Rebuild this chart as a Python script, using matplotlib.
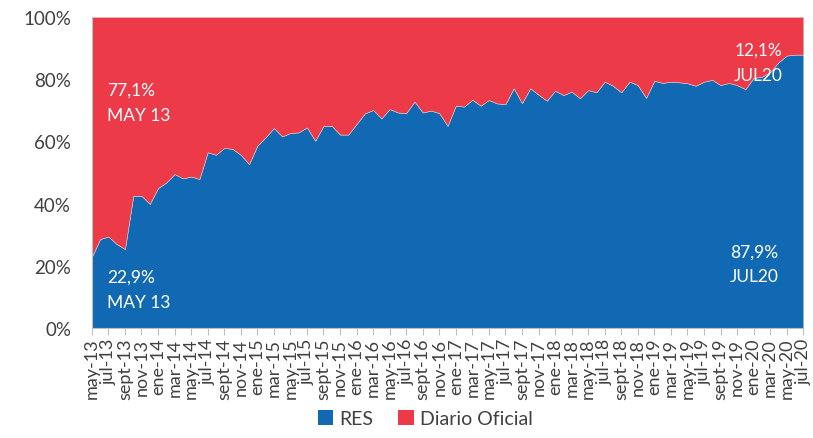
import matplotlib

matplotlib.use("Agg")
import matplotlib.pyplot as plt  # noqa: E402
from matplotlib.patches import Patch  # noqa: E402

BLUE, RED, GREY, INK = "#1169B4", "#EC3A48", "#BFBFBF", "#404040"

MONTHS = ["ene", "feb", "mar", "abr", "may", "jun", "jul", "ago", "sept", "oct", "nov", "dic"]

# monthly share of RES (%), may-13 .. jul-20
res = [
    22.9, 28.6, 29.4, 27.0, 25.4, 42.5, 42.5, 39.9,
    45.0, 46.8, 49.5, 48.1, 48.7, 47.9, 56.5, 55.7, 57.9, 57.6, 55.7, 52.7,
    58.6, 61.3, 64.3, 61.6, 62.7, 62.9, 64.5, 60.2, 65.0, 65.0, 62.2, 62.2,
    65.6, 69.0, 70.1, 67.4, 70.4, 69.3, 69.1, 72.8, 69.3, 69.9, 69.1, 65.0,
    71.5, 71.2, 73.4, 71.5, 73.3, 72.2, 72.0, 77.1, 72.3, 77.1, 75.0, 73.1,
    76.3, 74.9, 76.0, 73.9, 76.5, 75.8, 79.2, 77.9, 75.8, 79.2, 78.1, 74.0,
    79.5, 78.8, 79.2, 79.0, 78.7, 77.9, 79.2, 79.8, 78.1, 78.8, 78.1, 76.8,
    80.4, 80.8, 82.3, 85.4, 87.6, 87.9, 87.9,
]
diario = [100 - v for v in res]

labels = []
m, y = 4, 13
for _ in res:
    labels.append(f"{MONTHS[m]}-{y}")
    m += 1
    if m == 12:
        m, y = 0, y + 1

x = list(range(len(res)))

plt.rcParams["font.family"] = ["Lato", "DejaVu Sans"]
fig = plt.figure(figsize=(8.13, 4.39), dpi=100)
ax = fig.add_axes([0.113, 0.2506, 0.875, 0.7084])

ax.stackplot(x, res, diario, colors=[BLUE, RED], lw=0.4, edgecolor="#d0d0d0")
ax.set_xlim(0, len(res) - 1)
ax.set_ylim(0, 100)

ax.set_yticks(range(0, 101, 20))
ax.set_yticklabels([f"{v}%" for v in range(0, 101, 20)], fontsize=13.5, color=INK)
ax.tick_params(axis="y", length=0, pad=15)

ax.set_xticks(x[::2])
ax.set_xticklabels(labels[::2], rotation=90, fontsize=13, color=INK)
ax.tick_params(axis="x", length=5, color=GREY, pad=2)

for s in ("top", "right"):
    ax.spines[s].set_visible(False)
ax.spines["left"].set_color(GREY)
ax.spines["bottom"].set_color(GREY)

fs = 12.5
ax.text(1.8, 100 - 23.5, f"{diario[0]:.1f}%".replace(".", ","), color="white", fontsize=fs, va="center")
ax.text(1.8, 100 - 31.5, "MAY 13", color="white", fontsize=fs, va="center")
ax.text(1.8, 16.5, f"{res[0]:.1f}%".replace(".", ","), color="white", fontsize=fs, va="center")
ax.text(1.8, 8.5, "MAY 13", color="white", fontsize=fs, va="center")
ax.text(83.5, 89.5, f"{diario[-1]:.1f}%".replace(".", ","), color="white", fontsize=fs, va="center", ha="right")
ax.text(83.5, 81.5, "JUL20", color="white", fontsize=fs, va="center", ha="right")
ax.text(83.0, 24.5, f"{res[-1]:.1f}%".replace(".", ","), color="white", fontsize=fs, va="center", ha="right")
ax.text(83.0, 16.8, "JUL20", color="white", fontsize=fs, va="center", ha="right")

handles = [Patch(fc=BLUE, label="RES"), Patch(fc=RED, label="Diario Oficial")]
fig.legend(
    handles=handles,
    loc="lower center",
    bbox_to_anchor=(0.523, -0.015),
    ncol=2,
    frameon=False,
    fontsize=14,
    handlelength=0.8,
    handleheight=0.8,
    handletextpad=0.3,
    columnspacing=1.3,
    labelcolor=INK,
)

fig.savefig("out.png", dpi=100)
